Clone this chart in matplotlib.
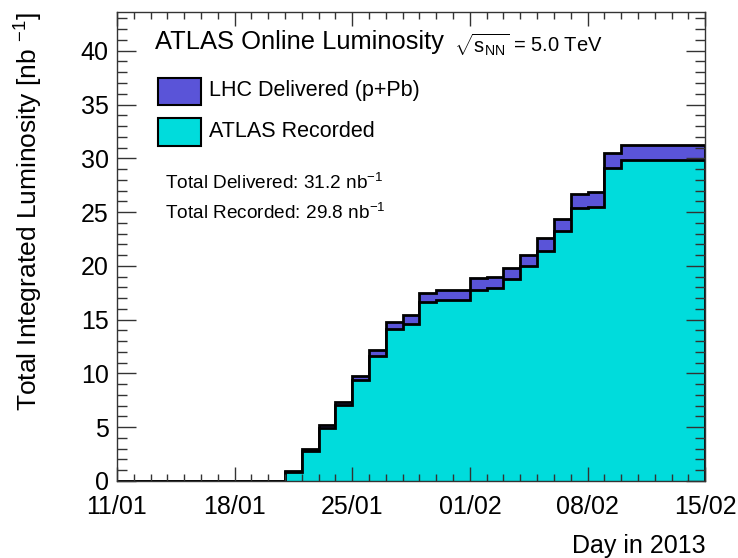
import datetime as dt
import numpy as np
import matplotlib
matplotlib.use("Agg")
import matplotlib.pyplot as plt
import matplotlib.dates as mdates
from matplotlib.ticker import MultipleLocator
from matplotlib.patches import Rectangle

plt.rcParams['font.family'] = ['Liberation Sans', 'DejaVu Sans']
plt.rcParams['mathtext.fontset'] = 'custom'
plt.rcParams['mathtext.rm'] = 'Liberation Sans'
plt.rcParams['mathtext.it'] = 'Liberation Sans:italic'

# daily cumulative luminosity [nb^-1], one value per day starting 11/01/2013
start_day = dt.datetime(2013, 1, 11)
delivered = [0, 0, 0, 0, 0, 0, 0, 0, 0, 0,
             0.9, 3.0, 5.2, 7.35, 9.8, 12.2, 14.8, 15.4, 17.5, 17.8,
             17.8, 18.85, 19.0, 19.8, 21.0, 22.6, 24.4, 26.7, 26.9, 30.5,
             31.2, 31.2, 31.2, 31.2, 31.2]
recorded = [0, 0, 0, 0, 0, 0, 0, 0, 0, 0,
            0.8, 2.8, 4.9, 7.05, 9.4, 11.6, 14.1, 14.6, 16.6, 16.8,
            16.8, 17.8, 17.9, 18.8, 20.0, 21.4, 23.2, 25.4, 25.5, 29.1,
            29.8, 29.8, 29.8, 29.8, 29.8]
tick_labels = ['11/01', '18/01', '25/01', '01/02', '08/02', '15/02']

col_del = '#5a54d8'
col_rec = '#00dcdc'

days = [start_day + dt.timedelta(days=i) for i in range(len(delivered) + 1)]
edges = mdates.date2num(days)

fig = plt.figure(figsize=(7.38, 5.58), dpi=100)
ax = fig.add_axes([0.1585, 0.138, 0.797, 0.8405])

ax.stairs(delivered, edges, fill=True, color=col_del, lw=0)
ax.stairs(delivered, edges, color='black', lw=2)
ax.stairs(recorded, edges, fill=True, color=col_rec, lw=0)
ax.stairs(recorded, edges, color='black', lw=2)

ax.set_xlim(edges[0], edges[-1])
ax.set_ylim(0, 43.6)
ax.set_xticks(edges[::7])
ax.set_xticklabels(tick_labels)
ax.xaxis.set_minor_locator(MultipleLocator(1))
ax.yaxis.set_major_locator(MultipleLocator(5))
ax.yaxis.set_minor_locator(MultipleLocator(1))
ax.tick_params(which='both', direction='in', top=True, right=True, labelsize=18, width=1, color='#333333')
ax.tick_params(axis='x', which='major', length=10, pad=10)
ax.tick_params(axis='x', which='minor', length=5)
ax.tick_params(axis='y', which='major', length=14, pad=6)
ax.tick_params(axis='y', which='minor', length=7)
for s in ax.spines.values():
    s.set_linewidth(1)
    s.set_color('#333333')

ax.set_ylabel(r'Total Integrated Luminosity [nb $^{-1}$]', fontsize=19, loc='top', labelpad=26)
ax.set_xlabel('Day in 2013', fontsize=18, ha='right', va='top')
ax.xaxis.set_label_coords(1.0, -0.112)

ax.text(0.065, 0.935, 'ATLAS Online Luminosity', transform=ax.transAxes, fontsize=18.4, va='center')
ax.text(0.573, 0.93, r'$\sqrt{\mathrm{s}_{\rm NN}}$ = 5.0 TeV', transform=ax.transAxes, fontsize=14.5, va='center')
for yy, c, lab in [(0.832, col_del, 'LHC Delivered (p+Pb)'), (0.745, col_rec, 'ATLAS Recorded')]:
    ax.add_patch(Rectangle((0.07, yy - 0.03), 0.073, 0.058, transform=ax.transAxes,
                           facecolor=c, edgecolor='black', lw=1.5, clip_on=False))
    ax.text(0.157, yy, lab, transform=ax.transAxes, fontsize=15.5, va='center')
ax.text(0.082, 0.635, r'Total Delivered: 31.2 nb$^{-1}$', transform=ax.transAxes, fontsize=13.7, va='center')
ax.text(0.082, 0.572, r'Total Recorded: 29.8 nb$^{-1}$', transform=ax.transAxes, fontsize=13.7, va='center')

fig.savefig('out.png', dpi=100)
